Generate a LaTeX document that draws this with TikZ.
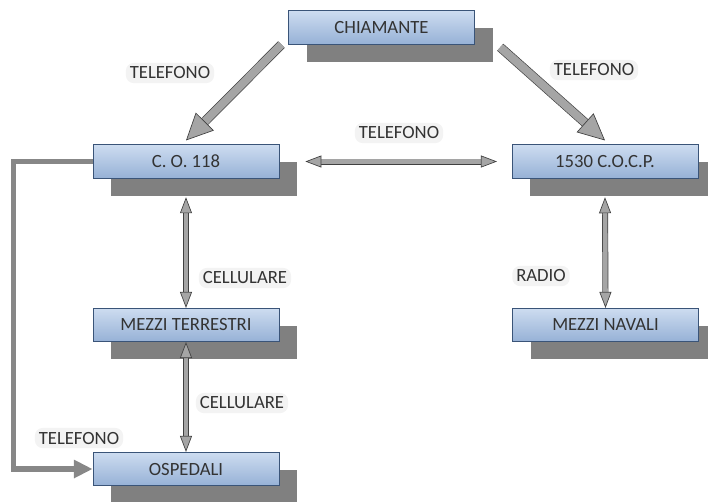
\documentclass[tikz,border=0pt]{standalone}
\usepackage{fontspec}
\setmainfont{Carlito}
\usetikzlibrary{arrows.meta,positioning,calc,shadows}
\definecolor{boxtop}{RGB}{205,220,240}
\definecolor{boxbot}{RGB}{150,177,214}
\definecolor{boxline}{RGB}{58,84,120}
\definecolor{shadowgray}{RGB}{128,128,128}
\definecolor{arrowgray}{RGB}{165,165,165}
\definecolor{feedgray}{RGB}{135,135,135}
\definecolor{labelbg}{RGB}{243,243,243}

\begin{document}
\begin{tikzpicture}[x=0.75pt, y=-0.75pt,
    unitbox/.style={rectangle, draw=boxline, line width=0.6pt, top color=boxtop, bottom color=boxbot,
                 minimum width=139.5pt, minimum height=25pt, inner sep=0pt,
                 font=\fontsize{14}{16}\selectfont, text=black!80,
                 general shadow={fill=shadowgray, shadow xshift=13.5pt, shadow yshift=-13pt}},
    lab/.style={fill=labelbg, rounded corners=6pt, inner sep=3pt, font=\fontsize{14}{16}\selectfont, text=black!80},
    fat/.style={draw=black!75, line width=0.5pt, double=arrowgray, double distance=6pt,
                -{Triangle[length=20pt, width=19pt, fill=arrowgray, line width=0.5pt]}},
    link/.style={draw=black!75, line width=0.5pt, double=arrowgray, double distance=3.5pt,
                {Triangle[length=12pt, width=9pt, fill=arrowgray, line width=0.5pt]}-{Triangle[length=12pt, width=9pt, fill=arrowgray, line width=0.5pt]}},
    feed/.style={draw=feedgray, line width=4pt, -{Triangle[length=14pt, width=13pt]}}
]
\useasboundingbox (0,0) rectangle (708,501);

% boxes
\node[unitbox] (chiam) at (381.5,27.5)  {CHIAMANTE};
\node[unitbox] (co)    at (186,161.5)   {C. O. 118};
\node[unitbox] (cocp)  at (605,161.5)   {1530 C.O.C.P.};
\node[unitbox] (terr)  at (186,325)     {MEZZI TERRESTRI};
\node[unitbox] (naval) at (605.5,325)   {MEZZI NAVALI};
\node[unitbox] (osp)   at (186,469)     {OSPEDALI};

% labels
\node[lab] (tel1) at (170,73)  {TELEFONO};
\node[lab] (tel2) at (594,70)  {TELEFONO};
\node[lab] (tel3) at (399,133) {TELEFONO};
\node[lab] (cel1) at (245,278) {CELLULARE};
\node[lab] (cel2) at (242,403) {CELLULARE};
\node[lab] (radio) at (541,276) {RADIO};
\node[lab] (tel4) at (79,438)  {TELEFONO};

% connectors
\draw[fat] ([xshift=-5pt]chiam.south west) -- ([yshift=3pt]co.north);
\draw[fat] ([xshift=19pt,yshift=-2pt]chiam.south east) -- ([yshift=3pt]cocp.north);
\draw[link] ([xshift=19.5pt]co.east) -- ([xshift=-11pt]cocp.west);
\draw[link] ([yshift=-14pt]co.south) -- (terr.north);
\draw[link] (terr.south) -- (osp.north);
\draw[link] ([yshift=-14pt]cocp.south) -- (naval.north);
\draw[feed] (co.west) -- ++(-79,0) |- (osp.west);
\end{tikzpicture}
\end{document}
